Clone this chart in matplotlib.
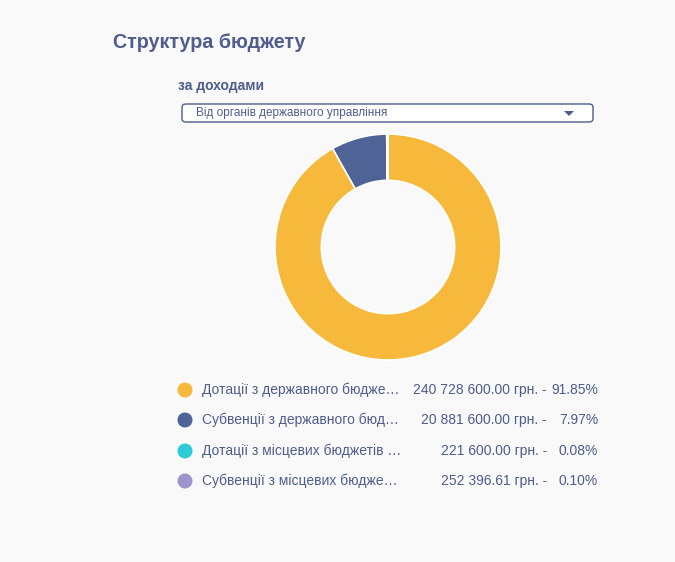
import matplotlib
matplotlib.use("Agg")
import matplotlib.pyplot as plt
from matplotlib.patches import FancyBboxPatch, Circle, Polygon

plt.rcParams['font.family'] = ['Liberation Sans', 'DejaVu Sans']

# data
labels = ["Дотації з державного бюдже…", "Субвенції з державного бюд…",
          "Дотації з місцевих бюджетів …", "Субвенції з місцевих бюдже…"]
amounts = [240728600.00, 20881600.00, 221600.00, 252396.61]
amount_labels = ["240 728 600.00", "20 881 600.00", "221 600.00", "252 396.61"]
percents = ["91.85%", "7.97%", "0.08%", "0.10%"]
colors = ["#f6b93b", "#506396", "#2ecad6", "#9b95c9"]

W, H = 675, 562
text_col = "#4e5d8c"
bg = "#f9f9f9"

fig = plt.figure(figsize=(W / 100, H / 100), dpi=100)
fig.patch.set_facecolor(bg)

def fx(x):
    return x / W

def fy(y):
    return 1 - y / H

# title
fig.text(fx(113), fy(42), "Структура бюджету", fontsize=14.2, fontweight='bold',
         color=text_col, va='center', ha='left')
fig.text(fx(178), fy(86), "за доходами", fontsize=10, fontweight='bold',
         color=text_col, va='center', ha='left')

# dropdown
box = FancyBboxPatch((fx(182), fy(122)), fx(593) - fx(182), fy(104) - fy(122),
                     boxstyle="round,pad=0,rounding_size=0.006",
                     transform=fig.transFigure, facecolor='white',
                     edgecolor=text_col, linewidth=1)
fig.patches.append(box)
fig.text(fx(196), fy(113), "Від органів державного управління", fontsize=8.5,
         color=text_col, va='center', ha='left')
tri = Polygon([(fx(564), fy(111)), (fx(574), fy(111)), (fx(569), fy(116))],
              closed=True, transform=fig.transFigure, facecolor=text_col,
              edgecolor='none')
fig.patches.append(tri)

# donut
cx, cy, r = 388, 247, 113
ax = fig.add_axes([fx(cx - r), fy(cy + r), 2 * r / W, 2 * r / H])
ax.pie(amounts, colors=colors, startangle=90, counterclock=False,
       radius=1, wedgeprops=dict(width=0.41, edgecolor='white', linewidth=1.2))
ax.set_aspect('equal')
ax.set_xlim(-1, 1)
ax.set_ylim(-1, 1)
ax.axis('off')

# legend
row_y = [390, 420, 451, 481]
for lab, amt, pct, col, y in zip(labels, amount_labels, percents, colors, row_y):
    dot = Circle((185, H - y), 7.5, transform=None, facecolor=col, edgecolor='none')
    fig.patches.append(dot)
    fig.text(fx(202), fy(y), lab, fontsize=10, color=text_col, va='center', ha='left')
    fig.text(fx(547), fy(y), amt + " грн. -", fontsize=10, color=text_col,
             va='center', ha='right')
    fig.text(fx(598), fy(y), pct, fontsize=10, color=text_col, va='center', ha='right')

fig.savefig("out.png", dpi=100, facecolor=bg)
